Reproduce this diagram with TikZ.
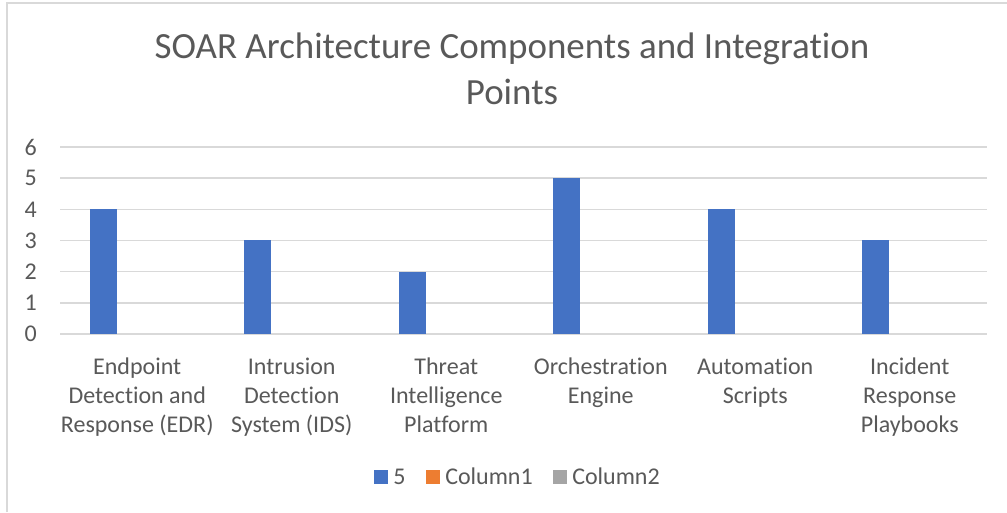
\documentclass[tikz,border=0pt]{standalone}
\usepackage{fontspec}
\setmainfont{Carlito}[Ligatures={NoCommon}]
\definecolor{txt}{HTML}{595959}
\definecolor{gridc}{HTML}{D9D9D9}
\definecolor{barblue}{HTML}{4472C4}
\definecolor{barorange}{HTML}{ED7D31}
\definecolor{bargray}{HTML}{A5A5A5}
\begin{document}
\begin{tikzpicture}[x=0.75pt,y=-0.75pt,
  gridline/.style={draw=gridc,line width=1.1pt},
  ticklab/.style={anchor=east,inner sep=0pt,text=txt,font=\fontsize{18}{21.75}\selectfont},
  catlab/.style={anchor=base,inner sep=0pt,text=txt,align=center,font=\fontsize{18}{21.75}\selectfont},
  bar/.style={fill=barblue,draw=none},
  legbox/.style={minimum size=10.5pt,inner sep=0pt,anchor=center,draw=none},
  legtext/.style={anchor=base west,inner sep=0pt,text=txt,font=\fontsize{18}{21.75}\selectfont}]
\useasboundingbox (0,0) rectangle (1007,512);
\fill[white] (0,0) rectangle (1007,512);
% chart border (left and top visible)
\draw[gridc,line width=1pt] (7,512) -- (7,3) -- (1007,3);
% title
\node[anchor=base,inner sep=0pt,text=txt,align=center,font=\fontsize{27.7}{34.5}\selectfont] (title) at (512,104)
  {SOAR Architecture Components and Integration\\Points};
% gridlines and tick labels
\foreach \v in {0,...,6}{
  \coordinate (gl\v) at (60,{334-31.17*\v});
  \coordinate (gr\v) at (987,{334-31.17*\v});
  \draw[gridline] (gl\v) -- (gr\v);
  \node[ticklab] (t\v) at (37,{334-31.17*\v}) {\v};
}
% bars
\foreach \i/\v in {1/4,2/3,3/2,4/5,5/4,6/3}{
  \fill[bar] ({60+154.5*(\i-1)+29.5},334) rectangle ({60+154.5*(\i-1)+56.5},{334-31.17*\v});
}
% category labels (anchored at the baseline of the last line)
\node[catlab] (c1) at (137.25,432) {Endpoint\\Detection and\\Response (EDR)};
\node[catlab] (c2) at (291.75,432) {Intrusion\\Detection\\System (IDS)};
\node[catlab] (c3) at (446.25,432) {Threat\\Intelligence\\Platform};
\node[catlab] (c4) at (600.75,403) {Orchestration\\Engine};
\node[catlab] (c5) at (755.25,403) {Automation\\Scripts};
\node[catlab] (c6) at (909.75,432) {Incident\\Response\\Playbooks};
% legend
\node[legbox,fill=barblue] (lb1) at (381,477) {};
\node[legtext] (lt1) at (393,484.5) {5};
\node[legbox,fill=barorange] (lb2) at (433,477) {};
\node[legtext] (lt2) at (445,484.5) {Column1};
\node[legbox,fill=bargray] (lb3) at (560,477) {};
\node[legtext] (lt3) at (572,484.5) {Column2};
\end{tikzpicture}
\end{document}
